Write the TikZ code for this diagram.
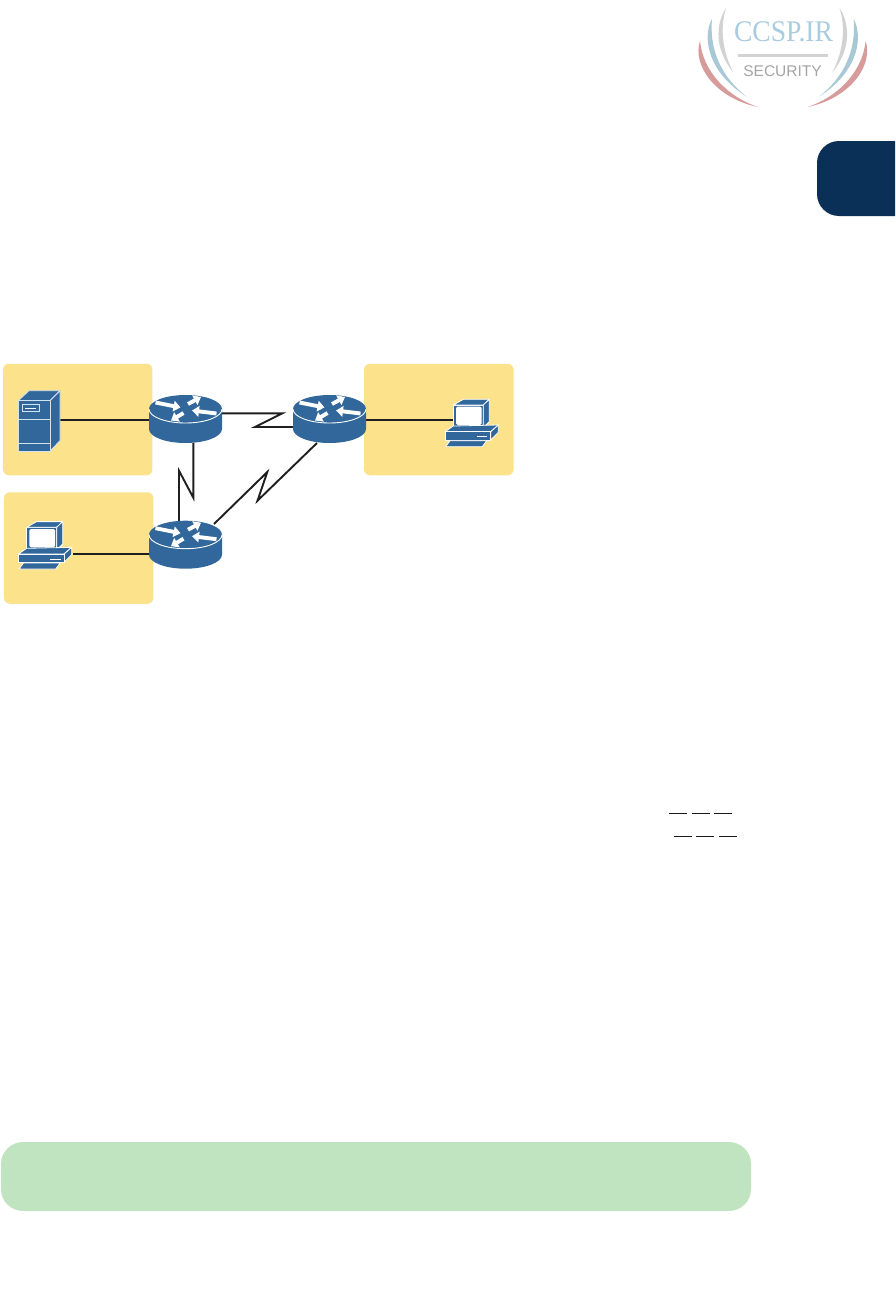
\documentclass[tikz,border=0pt]{standalone}
\usepackage{fontspec}
\setmainfont{Liberation Serif}
\newfontfamily\logosans{Liberation Sans}
\usetikzlibrary{arrows.meta}
\definecolor{iconblue}{HTML}{31679A}
\definecolor{iconline}{HTML}{D3E2F0}
\definecolor{zone}{HTML}{FDE28C}
\definecolor{notegreen}{HTML}{C1E4C0}
\definecolor{tabnavy}{HTML}{0B3058}
\definecolor{swgray}{HTML}{D2D2D2}
\definecolor{swblue}{HTML}{A9C8D6}
\definecolor{swred}{HTML}{D79B9B}
\definecolor{logotext}{HTML}{A9CDE0}
\definecolor{logogray}{HTML}{A5A5A5}
\tikzset{
  zonebox/.style={fill=zone,draw=none,rounded corners=6pt,minimum width=149.5pt,minimum height=111.5pt,inner sep=0pt},
  wire/.style={draw=black!88,line width=1.9pt,line join=miter},
  dashrule/.style={draw=black!90,line width=1.2pt},
  rarrow/.style={draw=white,line width=3.9pt,-{Triangle[length=7pt,width=10.5pt]}},
  pcpart/.style={fill=iconblue,draw=white,line width=0.8pt,line join=round},
  srvpart/.style={fill=iconblue,draw=iconline,line width=0.8pt,line join=round},
  routericon/.pic={
    \fill[iconblue] (-36.5,0) -- (-36.5,20) arc[start angle=180,end angle=0,x radius=36.5,y radius=14] -- (36.5,0) arc[start angle=0,end angle=-180,x radius=36.5,y radius=14] -- cycle;
    \draw[white,line width=0.9pt] (-36.5,0) arc[start angle=180,end angle=0,x radius=36.5,y radius=14];
    \draw[rarrow] (-30,-6.5) -- (-5,-1.5);
    \draw[rarrow] (2.5,-5) -- (15.5,-12);
    \draw[rarrow] (31,4.5) -- (6.5,1.5);
    \draw[rarrow] (-2,4) -- (-14.5,11.5);
  },
  pcicon/.pic={
    \draw[pcpart] (-16.7,-20) rectangle (13.3,2.7);
    \draw[pcpart] (-16.7,-20) -- (-6.7,-25.7) -- (19.3,-25.7) -- (13.3,-20) -- cycle;
    \draw[pcpart] (13.3,-20) -- (19.3,-25.7) -- (19.3,-3.3) -- (13.3,2.7) -- cycle;
    \fill[white,rounded corners=1.5pt] (-14,-18.3) rectangle (11.7,0);
    \draw[pcpart] (-25,6.7) -- (-16.7,1) -- (28.3,0) -- (20.7,6.7) -- cycle;
    \draw[pcpart] (20.7,6.7) -- (28.3,0) -- (28.3,7.3) -- (20.7,15) -- cycle;
    \draw[pcpart] (-25,6.7) rectangle (20.7,15);
    \draw[white,line width=0.8pt] (6.7,11.7) -- (17.3,11.7);
    \draw[pcpart] (-24.3,21.7) -- (-20,15.7) -- (16.7,15.7) -- (12.3,21.7) -- cycle;
  },
  servericon/.pic={
    \draw[srvpart] (-15.7,-25) -- (-5,-35) -- (26,-35) -- (16,-25) -- cycle;
    \draw[srvpart] (16,-25) -- (26,-35) -- (26,15) -- (16,25.3) -- cycle;
    \draw[srvpart] (-15.7,-25) rectangle (16,25.3);
    \draw[iconline,line width=0.8pt] (-15.7,-6) -- (16,-6);
    \draw[iconline,line width=0.8pt] (-15.7,17.3) -- (16,17.3);
    \draw[iconline,line width=0.8pt] (-11.7,-21.7) rectangle (5,-14.3);
    \draw[white,line width=0.8pt] (-9,-17.7) -- (2,-17.7);
  }
}
\newcommand{\swooshes}{
  \fill[swgray] (726,8) .. controls (715,25) and (715,50) .. (733,72) .. controls (722,50) and (720,28) .. cycle;
  \fill[swblue] (712,19) .. controls (703,35) and (705,70) .. (747,97) .. controls (722,78) and (709,50) .. cycle;
  \fill[swred] (700,41) .. controls (692,65) and (715,98) .. (758,107) .. controls (728,97) and (703,72) .. cycle;
}
\begin{document}
\begin{tikzpicture}[x=1pt,y=-1pt]
\useasboundingbox (0,0) rectangle (895,1314);
\fill[white] (0,0) rectangle (895,1314);
% logo
\swooshes
\begin{scope}[xshift=1565.6pt,xscale=-1]
\swooshes
\end{scope}
\node[text=logotext,inner sep=0pt,font=\fontsize{30}{30}\selectfont] (logoname) at (783.5,32) {\scalebox{0.92}[1]{CCSP.IR}};
\fill[swgray] (738,53.8) rectangle (828,56.8);
\node[text=logogray,inner sep=0pt,font=\logosans\fontsize{15.5}{15.5}\selectfont] (logosec) at (782.5,71.5) {SECURITY};
% tab
\fill[tabnavy] (895,141) [rounded corners=22pt] -- (817,141) -- (817,216) [sharp corners] -- (895,216) -- cycle;
% zones
\node[zonebox] (zoneA) at (77.7,419.5) {};
\node[zonebox] (zoneB) at (78.7,548) {};
\node[zonebox] (zoneC) at (438.8,419.5) {};
% device anchors
\coordinate (r1) at (185.5,409);
\coordinate (r2) at (185.5,534.7);
\coordinate (r3) at (329.5,409);
\coordinate (srv) at (34,425.7);
\coordinate (pcL) at (43.4,547.3);
\coordinate (pcR) at (470,425);
% wire ends
\coordinate (srvE) at (60,420);
\coordinate (r1W) at (149,420);
\coordinate (r2W) at (149,554);
\coordinate (pcLE) at (73,554);
\coordinate (r3E) at (366,420);
\coordinate (pcRW) at (453,420);
\coordinate (r1E) at (222,413.3);
\coordinate (zA) at (282.3,413.3);
\coordinate (zB) at (255,427);
\coordinate (r3W) at (293,427);
\coordinate (r1S) at (193.3,443);
\coordinate (zC) at (193.3,497.7);
\coordinate (zD) at (179,470.7);
\coordinate (r2N) at (179,521);
\coordinate (r2NE) at (214,524);
\coordinate (zE) at (267.3,472);
\coordinate (zF) at (257.5,500.7);
\coordinate (r3S) at (317,443);
% wires
\draw[wire] (srvE) -- (r1W);
\draw[wire] (pcLE) -- (r2W);
\draw[wire] (r3E) -- (pcRW);
\draw[wire] (r1E) -- (zA) -- (zB) -- (r3W);
\draw[wire] (r1S) -- (zC) -- (zD) -- (r2N);
\draw[wire] (r2NE) -- (zE) -- (zF) -- (r3S);
% icons
\pic at (r1) {routericon};
\pic at (r2) {routericon};
\pic at (r3) {routericon};
\pic at (srv) {servericon};
\pic at (pcL) {pcicon};
\pic at (pcR) {pcicon};
% rules
\coordinate (d1a) at (669,813.4); \coordinate (d1b) at (687,813.4);
\coordinate (d2a) at (692,813.4); \coordinate (d2b) at (710,813.4);
\coordinate (d3a) at (714,813.4); \coordinate (d3b) at (732,813.4);
\coordinate (d4a) at (674,836.2); \coordinate (d4b) at (692,836.2);
\coordinate (d5a) at (696,836.2); \coordinate (d5b) at (714,836.2);
\coordinate (d6a) at (719,836.2); \coordinate (d6b) at (737,836.2);
\draw[dashrule] (d1a) -- (d1b);
\draw[dashrule] (d2a) -- (d2b);
\draw[dashrule] (d3a) -- (d3b);
\draw[dashrule] (d4a) -- (d4b);
\draw[dashrule] (d5a) -- (d5b);
\draw[dashrule] (d6a) -- (d6b);
% note band
\fill[notegreen,rounded corners=22pt] (1,1142) rectangle (751,1211);
\end{tikzpicture}
\end{document}
